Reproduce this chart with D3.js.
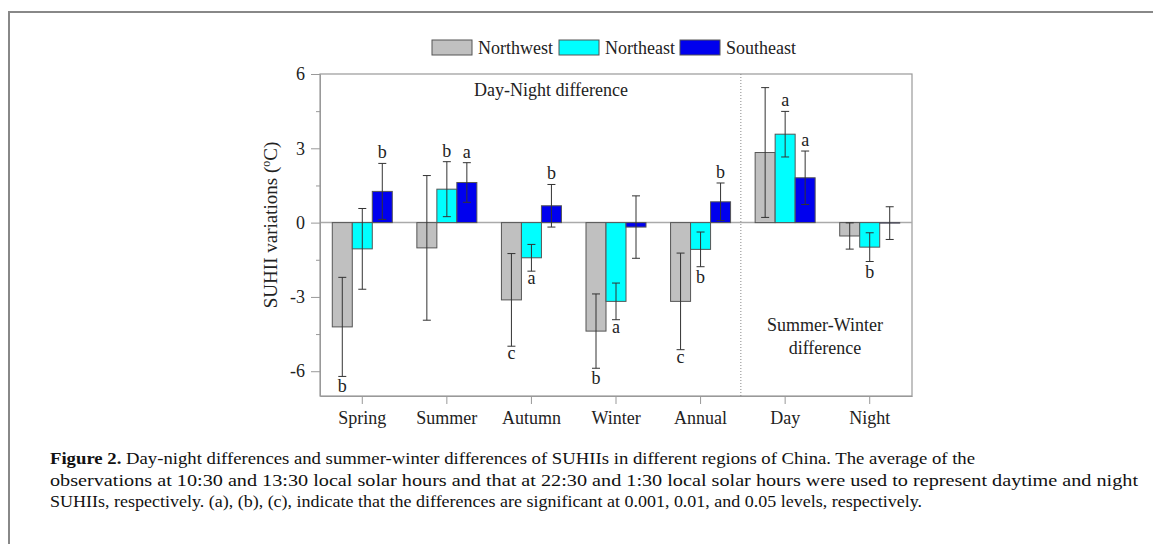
<!DOCTYPE html>
<html>
  <head>
    <title>SUHII variations</title>
    <style>
      body {
        margin: 0;
        padding: 0;
        overflow: hidden;
        background: #fff;
      }
      svg {
        display: block;
      }
      svg text {
        font-family: "Times New Roman", "Liberation Serif", Tinos, Times, serif;
      }
    </style>
    <script src="https://unpkg.com/d3@7.1.1/dist/d3.min.js"></script>
  </head>
  <body>
    <svg width="1153" height="544"></svg>
    <script>
      // Datos
      const categories = ['Spring', 'Summer', 'Autumn', 'Winter', 'Annual', 'Day', 'Night'];
      const series = ['Northwest', 'Northeast', 'Southeast'];
      const colors = ['#c0c0c0', '#00ffff', '#0000ee'];

      const northwest = [-4.21, -1.02, -3.12, -4.38, -3.18, 2.83, -0.54];
      const northeast = [-1.06, 1.35, -1.42, -3.18, -1.08, 3.57, -0.99];
      const southeast = [1.26, 1.62, 0.68, -0.18, 0.84, 1.81, -0.02];

      const northwestErr = [2.0, 2.92, 1.87, 1.5, 1.95, 2.62, 0.53];
      const northeastErr = [1.63, 1.11, 0.54, 0.74, 0.7, 0.92, 0.58];
      const southeastErr = [1.13, 0.8, 0.86, 1.26, 0.76, 1.08, 0.66];

      const northwestSig = ['b', '', 'c', 'b', 'c', '', ''];
      const northeastSig = ['', 'b', 'a', 'a', 'b', 'a', 'b'];
      const southeastSig = ['b', 'a', 'b', '', 'b', 'a', ''];

      const yTicks = [-6, -3, 0, 3, 6];
      const yMinorTicks = [-4.5, -1.5, 1.5, 4.5];

      const values = [northwest, northeast, southeast];
      const errors = [northwestErr, northeastErr, southeastErr];
      const sigs = [northwestSig, northeastSig, southeastSig];

      const svg = d3.select('svg');

      // Marco exterior
      svg.append('line').attr('x1', 8).attr('x2', 1153).attr('y1', 12).attr('y2', 12)
        .attr('stroke', '#888').attr('stroke-width', 2);
      svg.append('line').attr('x1', 9).attr('x2', 9).attr('y1', 12).attr('y2', 544)
        .attr('stroke', '#888').attr('stroke-width', 2);

      const plotLeft = 320, plotRight = 912, plotTop = 74, plotBottom = 396;

      const x = d3.scaleBand().domain(categories).range([plotLeft, plotRight]).padding(0);
      const xs = d3.scaleBand().domain(series).range([-30, 30]).padding(0);
      const y = d3.scaleLinear().domain([-7, 6]).range([plotBottom, plotTop]);

      // Caja del gráfico
      svg.append('rect')
        .attr('x', plotLeft).attr('y', plotTop)
        .attr('width', plotRight - plotLeft).attr('height', plotBottom - plotTop)
        .attr('fill', 'none').attr('stroke', '#999').attr('stroke-width', 1.2);

      // Línea de cero
      svg.append('line')
        .attr('x1', plotLeft).attr('x2', plotRight)
        .attr('y1', y(0)).attr('y2', y(0))
        .attr('stroke', '#aaa').attr('stroke-width', 1.5);

      // Separador punteado
      const divX = x('Day');
      svg.append('line')
        .attr('x1', divX - 2).attr('x2', divX - 2)
        .attr('y1', plotTop).attr('y2', plotBottom)
        .attr('stroke', '#888').attr('stroke-dasharray', '1,2');

      // Ejes
      const yAxis = svg.append('g')
        .attr('transform', `translate(${plotLeft},0)`)
        .call(d3.axisLeft(y).tickValues(yTicks).tickSize(9).tickSizeOuter(0).tickPadding(6).tickFormat(d => String(d)));
      svg.append('g')
        .attr('transform', `translate(${plotLeft},0)`)
        .call(d3.axisLeft(y).tickValues(yMinorTicks).tickSize(4).tickFormat(''))
        .call(g => g.select('.domain').remove());
      const xAxis = svg.append('g')
        .attr('transform', `translate(0,${plotBottom})`)
        .call(d3.axisBottom(x).tickSize(8).tickSizeOuter(0).tickPadding(7));

      [yAxis, xAxis].forEach(g => {
        g.attr('font-family', null);
        g.selectAll('.domain').attr('stroke', '#999');
        g.selectAll('text').attr('font-size', 18).attr('fill', '#222');
      });
      svg.selectAll('.tick line').attr('stroke', '#999');

      // Barras
      series.forEach((s, si) => {
        const g = svg.append('g');
        const data = categories.map((c, i) => ({ c, v: values[si][i], e: errors[si][i], sig: sigs[si][i] }));
        g.selectAll('rect')
          .data(data)
          .enter()
          .append('rect')
          .attr('x', d => x(d.c) + x.bandwidth() / 2 + xs(s))
          .attr('width', xs.bandwidth())
          .attr('y', d => y(Math.max(0, d.v)))
          .attr('height', d => Math.abs(y(d.v) - y(0)))
          .attr('fill', colors[si])
          .attr('stroke', '#555')
          .attr('stroke-width', 1);

        const cx = d => x(d.c) + x.bandwidth() / 2 + xs(s) + xs.bandwidth() / 2;
        const eb = g.selectAll('g.err').data(data).enter().append('g').attr('class', 'err')
          .attr('stroke', '#333').attr('stroke-width', 1);
        eb.append('line').attr('x1', cx).attr('x2', cx)
          .attr('y1', d => y(d.v + d.e)).attr('y2', d => y(d.v - d.e));
        eb.append('line').attr('x1', d => cx(d) - 4).attr('x2', d => cx(d) + 4)
          .attr('y1', d => y(d.v + d.e)).attr('y2', d => y(d.v + d.e));
        eb.append('line').attr('x1', d => cx(d) - 4).attr('x2', d => cx(d) + 4)
          .attr('y1', d => y(d.v - d.e)).attr('y2', d => y(d.v - d.e));

        // Letras de significancia (arriba si el valor es positivo, abajo si es negativo)
        g.selectAll('text.sig')
          .data(data.filter(d => d.sig))
          .enter()
          .append('text')
          .attr('class', 'sig')
          .attr('x', cx)
          .attr('y', d => d.v >= 0 ? y(d.v + d.e) - 5 : y(d.v - d.e) + (d.sig === 'b' ? 16 : 13))
          .attr('text-anchor', 'middle')
          .attr('font-size', 18)
          .attr('fill', '#222')
          .text(d => d.sig);
      });

      // Textos dentro del gráfico
      svg.append('text').attr('x', 551).attr('y', 96).attr('text-anchor', 'middle')
        .attr('font-size', 18).attr('fill', '#222').text('Day-Night difference');
      svg.append('text').attr('x', 825).attr('y', 331).attr('text-anchor', 'middle')
        .attr('font-size', 18).attr('fill', '#222').text('Summer-Winter');
      svg.append('text').attr('x', 825).attr('y', 354).attr('text-anchor', 'middle')
        .attr('font-size', 18).attr('fill', '#222').text('difference');

      // Título del eje Y
      const yTitle = svg.append('text')
        .attr('transform', `translate(277,${(plotTop + plotBottom) / 2 - 10}) rotate(-90)`)
        .attr('text-anchor', 'middle')
        .attr('font-size', 19)
        .attr('fill', '#222');
      yTitle.append('tspan').text('SUHII variations (');
      yTitle.append('tspan').attr('dy', -7).attr('font-size', 12).text('o');
      yTitle.append('tspan').attr('dy', 7).text('C)');

      // Leyenda
      const legendX = [432, 559, 680];
      series.forEach((s, si) => {
        svg.append('rect').attr('x', legendX[si]).attr('y', 40).attr('width', 40).attr('height', 15)
          .attr('fill', colors[si]).attr('stroke', '#555');
        svg.append('text').attr('x', legendX[si] + 46).attr('y', 54)
          .attr('font-size', 18).attr('fill', '#222').text(s);
      });

      // Leyenda de la figura
      const caption = [
        ['Figure 2.', ' Day-night differences and summer-winter differences of SUHIIs in different regions of China. The average of the', 925],
        ['', 'observations at 10:30 and 13:30 local solar hours and that at 22:30 and 1:30 local solar hours were used to represent daytime and night', 1088],
        ['', 'SUHIIs, respectively. (a), (b), (c), indicate that the differences are significant at 0.001, 0.01, and 0.05 levels, respectively.', 872]
      ];
      caption.forEach((line, i) => {
        const t = svg.append('text')
          .attr('x', 50).attr('y', 464 + i * 21.5)
          .attr('font-size', 17).attr('fill', '#111')
          .attr('textLength', line[2]).attr('lengthAdjust', 'spacingAndGlyphs');
        if (line[0]) t.append('tspan').attr('font-weight', 'bold').text(line[0]);
        t.append('tspan').text(line[1]);
      });
    </script>
  </body>
</html>
